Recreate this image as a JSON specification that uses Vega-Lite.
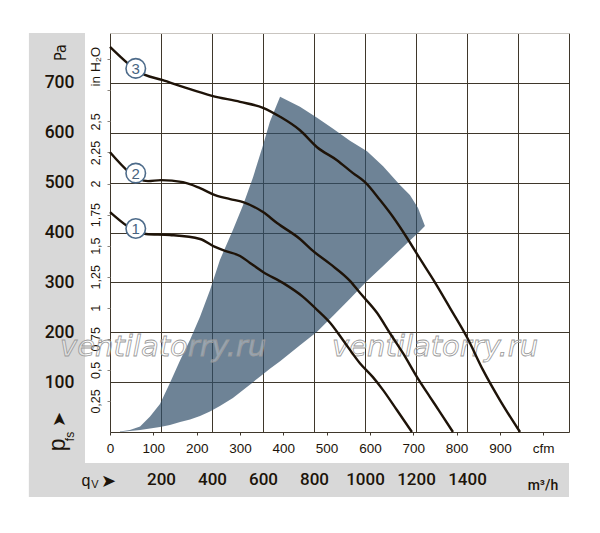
{
  "$schema": "https://vega.github.io/schema/vega-lite/v6.json",
  "width": 459,
  "height": 399,
  "autosize": {"type": "none"},
  "padding": {"left": 110, "top": 33, "right": 31, "bottom": 101},
  "background": "white",
  "config": {"view": {"stroke": null}, "font": "Liberation Sans"},
  "datasets": {
    "fan": [
      {"q": 39, "hi": 1, "lo": 0},
      {"q": 78, "hi": 4, "lo": 2},
      {"q": 118, "hi": 11, "lo": 4},
      {"q": 157, "hi": 31, "lo": 7},
      {"q": 196, "hi": 56, "lo": 10},
      {"q": 235, "hi": 98, "lo": 14},
      {"q": 275, "hi": 144, "lo": 20},
      {"q": 314, "hi": 185, "lo": 25},
      {"q": 353, "hi": 231, "lo": 32},
      {"q": 392, "hi": 284, "lo": 41},
      {"q": 431, "hi": 345, "lo": 52},
      {"q": 482, "hi": 405, "lo": 68},
      {"q": 522, "hi": 455, "lo": 84},
      {"q": 561, "hi": 511, "lo": 100},
      {"q": 600, "hi": 575, "lo": 116},
      {"q": 627, "hi": 622, "lo": 127},
      {"q": 667, "hi": 672, "lo": 142},
      {"q": 745, "hi": 652, "lo": 174},
      {"q": 812, "hi": 630, "lo": 201},
      {"q": 875, "hi": 608, "lo": 233},
      {"q": 941, "hi": 584, "lo": 267},
      {"q": 1008, "hi": 563, "lo": 303},
      {"q": 1071, "hi": 533, "lo": 333},
      {"q": 1137, "hi": 495, "lo": 365},
      {"q": 1176, "hi": 475, "lo": 384},
      {"q": 1208, "hi": 449, "lo": 399},
      {"q": 1235, "hi": 413, "lo": 413}
    ],
    "curves": [
      {"c": "3", "q": 0, "pa": 772}, {"c": "3", "q": 137, "pa": 716}, {"c": "3", "q": 204, "pa": 706},
      {"c": "3", "q": 286, "pa": 692}, {"c": "3", "q": 400, "pa": 674}, {"c": "3", "q": 510, "pa": 662},
      {"c": "3", "q": 600, "pa": 650}, {"c": "3", "q": 667, "pa": 632}, {"c": "3", "q": 745, "pa": 605},
      {"c": "3", "q": 812, "pa": 571}, {"c": "3", "q": 890, "pa": 545}, {"c": "3", "q": 953, "pa": 519},
      {"c": "3", "q": 1000, "pa": 501}, {"c": "3", "q": 1059, "pa": 465}, {"c": "3", "q": 1110, "pa": 431},
      {"c": "3", "q": 1165, "pa": 389}, {"c": "3", "q": 1216, "pa": 347}, {"c": "3", "q": 1267, "pa": 306},
      {"c": "3", "q": 1333, "pa": 249}, {"c": "3", "q": 1400, "pa": 190}, {"c": "3", "q": 1463, "pa": 124},
      {"c": "3", "q": 1529, "pa": 64}, {"c": "3", "q": 1608, "pa": 0},
      {"c": "2", "q": 0, "pa": 561}, {"c": "2", "q": 149, "pa": 503}, {"c": "2", "q": 200, "pa": 505},
      {"c": "2", "q": 286, "pa": 501}, {"c": "2", "q": 353, "pa": 489}, {"c": "2", "q": 412, "pa": 475},
      {"c": "2", "q": 471, "pa": 467}, {"c": "2", "q": 522, "pa": 461}, {"c": "2", "q": 600, "pa": 441},
      {"c": "2", "q": 655, "pa": 419}, {"c": "2", "q": 745, "pa": 387}, {"c": "2", "q": 796, "pa": 363},
      {"c": "2", "q": 863, "pa": 337}, {"c": "2", "q": 941, "pa": 303},
      {"c": "2", "q": 980, "pa": 279}, {"c": "2", "q": 1047, "pa": 239}, {"c": "2", "q": 1098, "pa": 198},
      {"c": "2", "q": 1149, "pa": 158}, {"c": "2", "q": 1204, "pa": 110}, {"c": "2", "q": 1255, "pa": 70},
      {"c": "2", "q": 1294, "pa": 40}, {"c": "2", "q": 1345, "pa": 0},
      {"c": "1", "q": 0, "pa": 441}, {"c": "1", "q": 141, "pa": 397}, {"c": "1", "q": 235, "pa": 395},
      {"c": "1", "q": 353, "pa": 387}, {"c": "1", "q": 412, "pa": 371}, {"c": "1", "q": 451, "pa": 363},
      {"c": "1", "q": 510, "pa": 353}, {"c": "1", "q": 549, "pa": 339}, {"c": "1", "q": 600, "pa": 321},
      {"c": "1", "q": 678, "pa": 299}, {"c": "1", "q": 757, "pa": 271}, {"c": "1", "q": 812, "pa": 245},
      {"c": "1", "q": 863, "pa": 219}, {"c": "1", "q": 914, "pa": 184}, {"c": "1", "q": 980, "pa": 138},
      {"c": "1", "q": 1031, "pa": 110}, {"c": "1", "q": 1071, "pa": 84}, {"c": "1", "q": 1125, "pa": 44},
      {"c": "1", "q": 1184, "pa": 0}
    ],
    "badges": [
      {"n": "1", "q": 101, "pa": 408},
      {"n": "2", "q": 101, "pa": 519},
      {"n": "3", "q": 101, "pa": 729}
    ],
    "marks": [
      {"t": "ventilatorry.ru", "q": 208, "pa": 170},
      {"t": "ventilatorry.ru", "q": 1275, "pa": 170}
    ]
  },
  "layer": [
    {
      "data": {"values": [{}]},
      "mark": {"type": "rect", "color": "#d8d8d8"},
      "encoding": {
        "x": {"datum": -318, "type": "quantitative", "scale": {"domain": [0, 1800], "nice": false, "zero": false},
          "axis": {"orient": "bottom", "zindex": 1, "values": [200, 400, 600, 800, 1000, 1200, 1400], "format": "d", "grid": false, "ticks": false, "domain": false,
            "labelPadding": 39, "labelFont": "Roboto", "labelFontWeight": 500, "labelFontSize": 17, "labelColor": "#1c140a",
            "labelFlush": false, "labelOverlap": false, "title": null}},
        "x2": {"datum": -98},
        "y": {"datum": 800, "type": "quantitative", "scale": {"domain": [0, 800], "nice": false, "zero": false},
          "axis": {"orient": "left", "zindex": 1, "values": [100, 200, 300, 400, 500, 600, 700], "format": "d", "grid": false, "ticks": false, "domain": false,
            "labelPadding": 36, "labelFont": "Roboto", "labelFontWeight": 500, "labelFontSize": 17.5, "labelColor": "#1c140a",
            "labelOverlap": false, "labelFlush": false,
            "title": "Pa", "titleAngle": 270, "titleX": -42, "titleY": 19, "titleAlign": "center", "titleBaseline": "bottom",
            "titleFont": "Liberation Sans Narrow, DejaVu Sans Condensed, Liberation Sans", "titleFontSize": 16, "titleFontWeight": "normal", "titleColor": "#1c140a"}},
        "y2": {"datum": -130.5}
      }
    },
    {
      "data": {"values": [{}]},
      "mark": {"type": "rect", "color": "#d8d8d8"},
      "encoding": {
        "x": {"datum": -318, "type": "quantitative", "scale": {"domain": [0, 1800], "nice": false, "zero": false}, "axis": null},
        "x2": {"datum": 1800},
        "y": {"datum": -62.2, "type": "quantitative", "scale": {"domain": [0, 800], "nice": false, "zero": false}, "axis": null},
        "y2": {"datum": -130.5}
      }
    },
    {
      "data": {"name": "fan"},
      "mark": {"type": "area", "color": "#314e6a", "opacity": 0.7, "interpolate": "linear"},
      "encoding": {
        "x": {"field": "q", "type": "quantitative", "scale": {"domain": [0, 1800], "nice": false, "zero": false},
          "axis": {"orient": "bottom", "values": [0, 200, 400, 600, 800, 1000, 1200, 1400, 1600, 1800], "grid": true,
            "gridColor": "#3f372b", "gridWidth": 1, "gridOpacity": 1, "labels": false, "ticks": false, "domain": false, "title": null}},
        "y": {"field": "hi", "type": "quantitative", "scale": {"domain": [0, 800], "nice": false, "zero": false},
          "axis": {"orient": "left", "values": [0, 100, 200, 300, 400, 500, 600, 700, 800], "grid": true,
            "gridColor": {"condition": {"test": "datum.value >= 800", "value": "#c9c5c0"}, "value": "#3f372b"},
            "gridWidth": 1, "gridOpacity": 1, "labels": false, "ticks": false, "domain": false, "title": null}},
        "y2": {"field": "lo"}
      }
    },
    {
      "data": {"name": "marks"},
      "mark": {"type": "text", "font": "DejaVu Sans", "fontSize": 29, "fontStyle": "italic", "fill": "#ffffff", "fillOpacity": 0.3,
        "stroke": "#9a9a9a", "strokeWidth": 0.8, "align": "center", "baseline": "middle"},
      "encoding": {
        "x": {"field": "q", "type": "quantitative", "scale": {"domain": [0, 1800], "nice": false, "zero": false}, "axis": null},
        "y": {"field": "pa", "type": "quantitative", "scale": {"domain": [0, 800], "nice": false, "zero": false}, "axis": null},
        "text": {"field": "t"}
      }
    },
    {
      "data": {"name": "curves"},
      "mark": {"type": "line", "color": "#1e1308", "strokeWidth": 2.4, "interpolate": "monotone"},
      "encoding": {
        "x": {"field": "q", "type": "quantitative", "scale": {"domain": [0, 1800], "nice": false, "zero": false},
          "axis": {"orient": "bottom", "values": [0, 169.9, 339.8, 509.7, 679.6, 849.5, 1019.4, 1189.3, 1359.2, 1529.1, 1699],
            "labelExpr": "datum.value > 1690 ? 'cfm' : format(datum.value / 1.699, '.0f')",
            "grid": false, "domain": false, "ticks": true, "tickSize": 3, "tickColor": "#3f372b", "tickWidth": 1,
            "labelPadding": 6, "labelFontSize": 13.5, "labelColor": "#1c140a", "labelFlush": false, "labelOverlap": false, "title": null}},
        "y": {"field": "pa", "type": "quantitative", "scale": {"domain": [0, 800], "nice": false, "zero": false},
          "axis": {"orient": "left", "values": [62.27, 124.55, 186.82, 249.09, 311.36, 373.64, 435.91, 498.18, 560.45, 622.73, 685.0, 747.27],
            "labelExpr": "datum.value < 630 ? replace(format(datum.value / 249.09, '.2~f'), '.', ',') : ''",
            "grid": false, "domain": false, "ticks": true, "tickSize": 3, "tickColor": "#8a847c", "tickWidth": 1,
            "labelAngle": 270, "labelAlign": "center", "labelBaseline": "bottom", "labelPadding": 5,
            "labelFontSize": 12.5, "labelColor": "#1c140a", "labelOverlap": false, "labelFlush": false,
            "title": "in H₂O", "titleAngle": 270, "titleX": -8, "titleY": 33, "titleAlign": "center", "titleBaseline": "bottom",
            "titleFontSize": 13.5, "titleFontWeight": "normal", "titleColor": "#1c140a"}},
        "detail": {"field": "c"}
      }
    },
    {
      "data": {"name": "badges"},
      "mark": {"type": "point", "shape": "circle", "filled": true, "fill": "white", "stroke": "#4d6b8a", "strokeWidth": 1.6, "size": 380, "opacity": 1},
      "encoding": {
        "x": {"field": "q", "type": "quantitative", "scale": {"domain": [0, 1800], "nice": false, "zero": false}, "axis": null},
        "y": {"field": "pa", "type": "quantitative", "scale": {"domain": [0, 800], "nice": false, "zero": false}, "axis": null}
      }
    },
    {
      "data": {"name": "badges"},
      "mark": {"type": "text", "fontSize": 15, "color": "#48647f", "align": "center", "baseline": "middle", "dy": 0.5},
      "encoding": {
        "x": {"field": "q", "type": "quantitative", "scale": {"domain": [0, 1800], "nice": false, "zero": false}, "axis": null},
        "y": {"field": "pa", "type": "quantitative", "scale": {"domain": [0, 800], "nice": false, "zero": false}, "axis": null},
        "text": {"field": "n"}
      }
    },
    {
      "data": {"values": [{}]},
      "mark": {"type": "text", "text": "p", "fontSize": 23, "angle": 270, "align": "center", "baseline": "alphabetic", "color": "#1c140a"},
      "encoding": {
        "x": {"datum": -176, "type": "quantitative", "scale": {"domain": [0, 1800], "nice": false, "zero": false}, "axis": null},
        "y": {"datum": -26, "type": "quantitative", "scale": {"domain": [0, 800], "nice": false, "zero": false}, "axis": null}
      }
    },
    {
      "data": {"values": [{}]},
      "mark": {"type": "text", "text": "fs", "fontSize": 12, "angle": 270, "align": "center", "baseline": "alphabetic", "color": "#1c140a"},
      "encoding": {
        "x": {"datum": -143, "type": "quantitative", "scale": {"domain": [0, 1800], "nice": false, "zero": false}, "axis": null},
        "y": {"datum": -9, "type": "quantitative", "scale": {"domain": [0, 800], "nice": false, "zero": false}, "axis": null}
      }
    },
    {
      "data": {"values": [{}]},
      "mark": {"type": "text", "text": "➤", "font": "DejaVu Sans", "fontSize": 18, "angle": 270, "align": "center", "baseline": "middle", "color": "#1c140a"},
      "encoding": {
        "x": {"datum": -196, "type": "quantitative", "scale": {"domain": [0, 1800], "nice": false, "zero": false}, "axis": null},
        "y": {"datum": 25, "type": "quantitative", "scale": {"domain": [0, 800], "nice": false, "zero": false}, "axis": null}
      }
    },
    {
      "data": {"values": [{}]},
      "mark": {"type": "text", "text": "q", "fontSize": 16, "align": "center", "baseline": "alphabetic", "color": "#1c140a"},
      "encoding": {
        "x": {"datum": -94, "type": "quantitative", "scale": {"domain": [0, 1800], "nice": false, "zero": false}, "axis": null},
        "y": {"datum": -108, "type": "quantitative", "scale": {"domain": [0, 800], "nice": false, "zero": false}, "axis": null}
      }
    },
    {
      "data": {"values": [{}]},
      "mark": {"type": "text", "text": "V", "fontSize": 11, "align": "center", "baseline": "alphabetic", "color": "#1c140a"},
      "encoding": {
        "x": {"datum": -59, "type": "quantitative", "scale": {"domain": [0, 1800], "nice": false, "zero": false}, "axis": null},
        "y": {"datum": -113, "type": "quantitative", "scale": {"domain": [0, 800], "nice": false, "zero": false}, "axis": null}
      }
    },
    {
      "data": {"values": [{}]},
      "mark": {"type": "text", "text": "➤", "font": "DejaVu Sans", "fontSize": 18, "align": "center", "baseline": "middle", "color": "#1c140a"},
      "encoding": {
        "x": {"datum": -6, "type": "quantitative", "scale": {"domain": [0, 1800], "nice": false, "zero": false}, "axis": null},
        "y": {"datum": -100, "type": "quantitative", "scale": {"domain": [0, 800], "nice": false, "zero": false}, "axis": null}
      }
    },
    {
      "data": {"values": [{}]},
      "mark": {"type": "text", "text": "m³/h", "font": "Roboto", "fontWeight": 500, "fontSize": 14, "align": "center", "baseline": "alphabetic", "color": "#1c140a"},
      "encoding": {
        "x": {"datum": 1698, "type": "quantitative", "scale": {"domain": [0, 1800], "nice": false, "zero": false}, "axis": null},
        "y": {"datum": -116, "type": "quantitative", "scale": {"domain": [0, 800], "nice": false, "zero": false}, "axis": null}
      }
    }
  ],
  "resolve": {"axis": {"x": "independent", "y": "independent"}}
}
